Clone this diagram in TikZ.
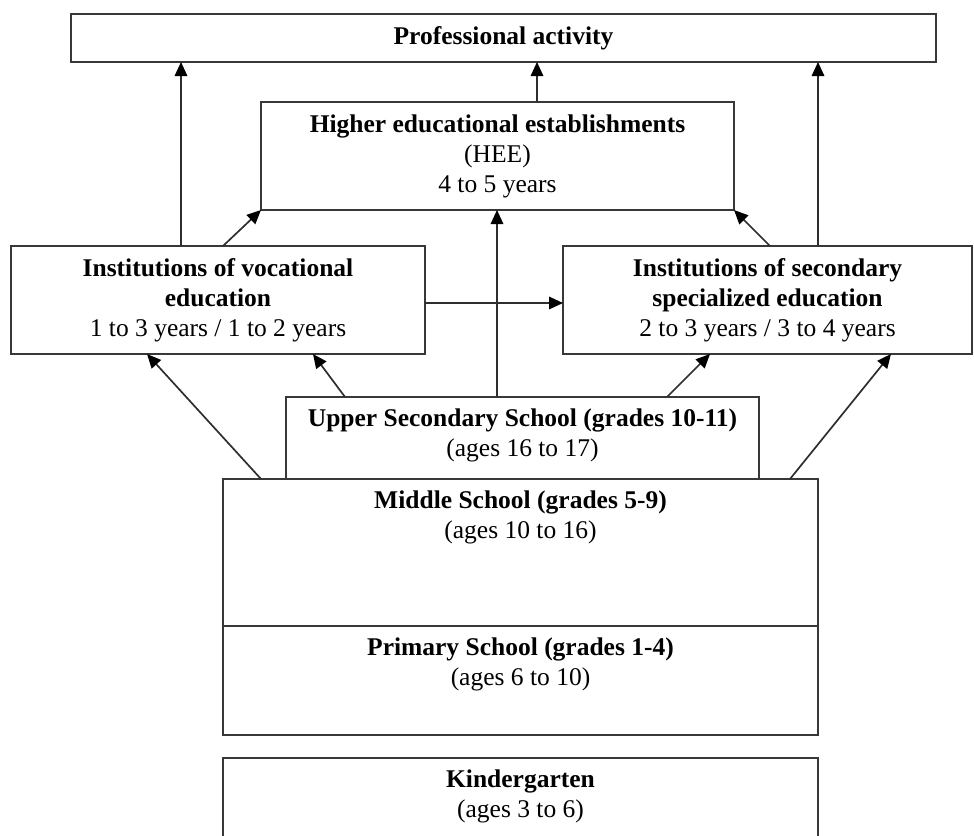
\documentclass[tikz,border=0pt]{standalone}
\usepackage{fontspec}
\setmainfont{Liberation Serif}
\usetikzlibrary{arrows.meta}
\begin{document}
\begin{tikzpicture}[x=1pt,y=-1pt,
  box/.style={draw=black!78, line width=1.8pt, anchor=north west, inner sep=0pt, outer sep=0pt},
  lbl/.style={align=center, inner sep=0pt, font=\fontsize{25.5}{30}\selectfont},
  arr/.style={draw=black!82, line width=1.7pt, -{Triangle[length=14pt,width=12.5pt,fill=black,color=black]}}]
\useasboundingbox (0,0) rectangle (974,835);
\clip (0,0) rectangle (974,835);

% boxes with centred text
\node[box, lbl, minimum width=865pt, minimum height=48pt] (prof) at (71,14) {\textbf{Professional activity}};
\node[box, lbl, minimum width=473pt, minimum height=108pt] (hee) at (261,102) {\textbf{Higher educational establishments}\\(HEE)\\4 to 5 years};
\node[box, lbl, minimum width=414pt, minimum height=108pt] (voc) at (11,246) {\textbf{Institutions of vocational}\\\textbf{education}\\1 to 3 years / 1 to 2 years};
\node[box, lbl, minimum width=409pt, minimum height=108pt] (sec) at (563,246) {\textbf{Institutions of secondary}\\\textbf{specialized education}\\2 to 3 years / 3 to 4 years};

% boxes with top-aligned text
\node[box, minimum width=473pt, minimum height=82pt] (upper) at (286,397) {};
\node[lbl, anchor=north] (uppert) at ([yshift=-12pt]upper.north) {\textbf{Upper Secondary School (grades 10-11)}\\(ages 16 to 17)};
\node[box, minimum width=595pt, minimum height=147pt] (mid) at (223,479) {};
\node[lbl, anchor=north] (midt) at ([yshift=-12pt]mid.north) {\textbf{Middle School (grades 5-9)}\\(ages 10 to 16)};
\node[box, minimum width=595pt, minimum height=109pt] (prim) at (223,626) {};
\node[lbl, anchor=north] (primt) at ([yshift=-12pt]prim.north) {\textbf{Primary School (grades 1-4)}\\(ages 6 to 10)};
\node[box, minimum width=595pt, minimum height=120pt] (kind) at (223,758) {};
\node[lbl, anchor=north] (kindt) at ([yshift=-12pt]kind.north) {\textbf{Kindergarten}\\(ages 3 to 6)};

% connectors
\draw[arr] ([xshift=170pt]voc.north west) -- ([xshift=170pt]voc.north west |- prof.south);
\draw[arr] ([xshift=39.5pt]hee.north) -- ([xshift=39.5pt]hee.north |- prof.south);
\draw[arr] ([xshift=255pt]sec.north west) -- ([xshift=255pt]sec.north west |- prof.south);
\draw[arr] ([xshift=212pt]voc.north west) -- (hee.south west);
\draw[arr] ([xshift=207pt]sec.north west) -- (hee.south east);
\draw[arr] ([xshift=-0.5pt]hee.south |- upper.north) -- ([xshift=-0.5pt]hee.south);
\draw[arr] ([yshift=-3pt]voc.east) -- ([yshift=-3pt]voc.east -| sec.west);
\draw[arr] ([xshift=38pt]mid.north west) -- ([xshift=136pt]voc.south west);
\draw[arr] ([xshift=59pt]upper.north west) -- ([xshift=302pt]voc.south west);
\draw[arr] ([xshift=381pt]upper.north west) -- ([xshift=147pt]sec.south west);
\draw[arr] ([xshift=567pt]mid.north west) -- ([xshift=328pt]sec.south west);
\end{tikzpicture}
\end{document}
